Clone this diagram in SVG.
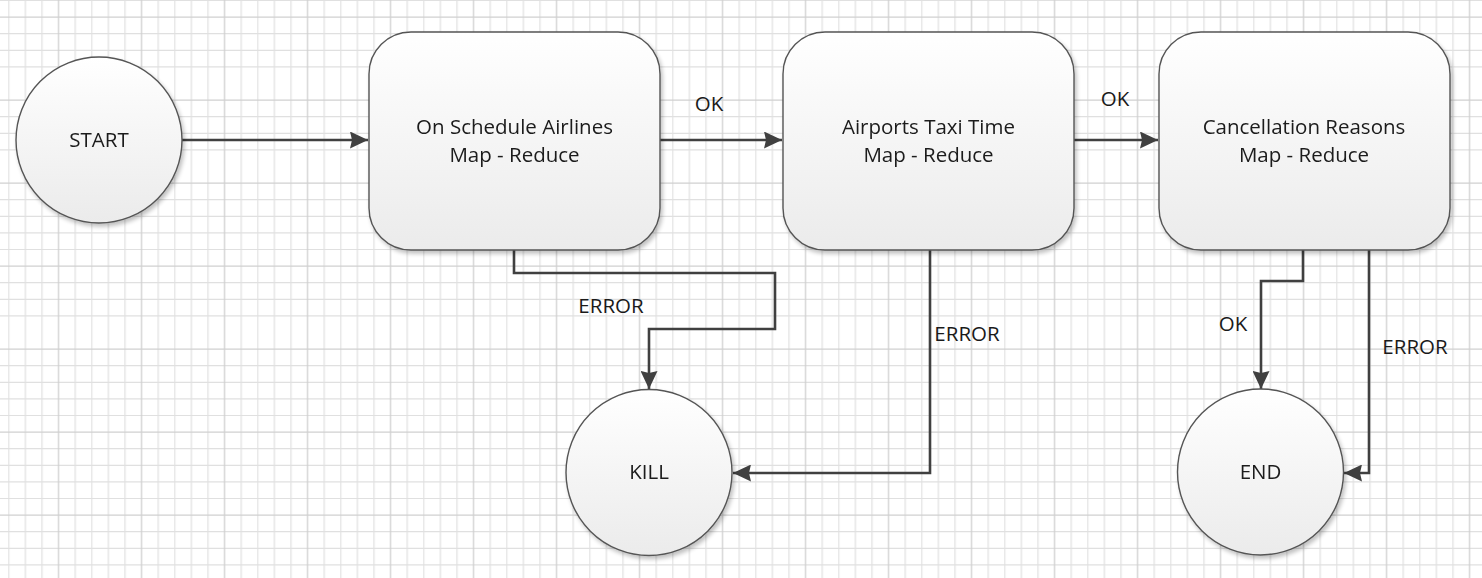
<svg xmlns="http://www.w3.org/2000/svg" width="1482" height="578" viewBox="0 0 1482 578">
<style>
.node{stroke:#555555;stroke-width:1.4}
.box{fill:url(#g)}
.circ{fill:url(#g)}
.t{font-family:"Open Sans","Liberation Sans",sans-serif;font-size:20.5px;fill:#1a1a1a;text-anchor:middle}
.c{fill:none;stroke:#404040;stroke-width:2.6}
</style>
<defs>
<pattern id="grid" patternUnits="userSpaceOnUse" x="8.3" y="0" width="83" height="83">
<g stroke="#e0e0e0" stroke-width="1.2">
<line x1="0.5" y1="0" x2="0.5" y2="83"/>
<line x1="17.1" y1="0" x2="17.1" y2="83"/>
<line x1="33.7" y1="0" x2="33.7" y2="83"/>
<line x1="66.9" y1="0" x2="66.9" y2="83"/>
<line x1="0" y1="0.5" x2="83" y2="0.5"/>
<line x1="0" y1="33.7" x2="83" y2="33.7"/>
<line x1="0" y1="50.3" x2="83" y2="50.3"/>
<line x1="0" y1="66.9" x2="83" y2="66.9"/>
</g>
<g stroke="#d0d0d0" stroke-width="1.3">
<line x1="50.3" y1="0" x2="50.3" y2="83"/>
<line x1="0" y1="17.1" x2="83" y2="17.1"/>
</g>
</pattern>
<linearGradient id="g" x1="0" y1="0" x2="0" y2="1">
<stop offset="0" stop-color="#ffffff"/>
<stop offset="1" stop-color="#ebebeb"/>
</linearGradient>
<filter id="sh" x="-10%" y="-10%" width="125%" height="125%">
<feGaussianBlur in="SourceAlpha" stdDeviation="2"/>
<feOffset dx="2" dy="3"/>
<feComponentTransfer><feFuncA type="linear" slope="0.25"/></feComponentTransfer>
<feMerge><feMergeNode/><feMergeNode in="SourceGraphic"/></feMerge>
</filter>
<marker id="ah" viewBox="0 0 18 17" refX="18" refY="8.5" markerWidth="18" markerHeight="17" markerUnits="userSpaceOnUse" orient="auto">
<path d="M0,0 L18,8.5 L0,17 L2,8.5 Z" fill="#404040"/>
</marker>
</defs>
<rect width="1482" height="578" fill="#ffffff"/>
<rect width="1482" height="578" fill="url(#grid)"/>

<g id="connectors">
<line class="c" x1="182" y1="140" x2="368" y2="140" marker-end="url(#ah)"/>
<line class="c" x1="660" y1="140" x2="782" y2="140" marker-end="url(#ah)"/>
<line class="c" x1="1074" y1="140" x2="1158" y2="140" marker-end="url(#ah)"/>
<polyline class="c" points="514,250 514,273 775,273 775,329 649,329 649,389" marker-end="url(#ah)"/>
<polyline class="c" points="930,250 930,473 733,473" marker-end="url(#ah)"/>
<polyline class="c" points="1303,250 1303,281 1261,281 1261,389" marker-end="url(#ah)"/>
<polyline class="c" points="1369,250 1369,473 1344,473" marker-end="url(#ah)"/>
<text class="t" x="709" y="111">OK</text>
<text class="t" x="1115" y="106">OK</text>
<text class="t" x="611" y="313">ERROR</text>
<text class="t" x="967" y="341">ERROR</text>
<text class="t" x="1233" y="331">OK</text>
<text class="t" x="1415" y="354">ERROR</text>
</g>

<g id="start" filter="url(#sh)">
<circle class="node circ" cx="99" cy="140" r="83"/>
<text class="t" x="99" y="147">START</text>
</g>
<g id="onschedule" filter="url(#sh)">
<rect class="node box" x="369" y="32" width="291" height="218" rx="42" ry="42"/>
<text class="t" x="514.5" y="134">On Schedule Airlines</text>
<text class="t" x="514.5" y="162">Map - Reduce</text>
</g>
<g id="taxitime" filter="url(#sh)">
<rect class="node box" x="783" y="32" width="291" height="218" rx="42" ry="42"/>
<text class="t" x="928.5" y="134">Airports Taxi Time</text>
<text class="t" x="928.5" y="162">Map - Reduce</text>
</g>
<g id="cancellation" filter="url(#sh)">
<rect class="node box" x="1159" y="32" width="291" height="218" rx="42" ry="42"/>
<text class="t" x="1304" y="134">Cancellation Reasons</text>
<text class="t" x="1304" y="162">Map - Reduce</text>
</g>
<g id="kill" filter="url(#sh)">
<circle class="node circ" cx="649" cy="472.5" r="83"/>
<text class="t" x="649" y="479">KILL</text>
</g>
<g id="end" filter="url(#sh)">
<circle class="node circ" cx="1260.5" cy="472" r="83"/>
<text class="t" x="1260.5" y="479">END</text>
</g>
</svg>
